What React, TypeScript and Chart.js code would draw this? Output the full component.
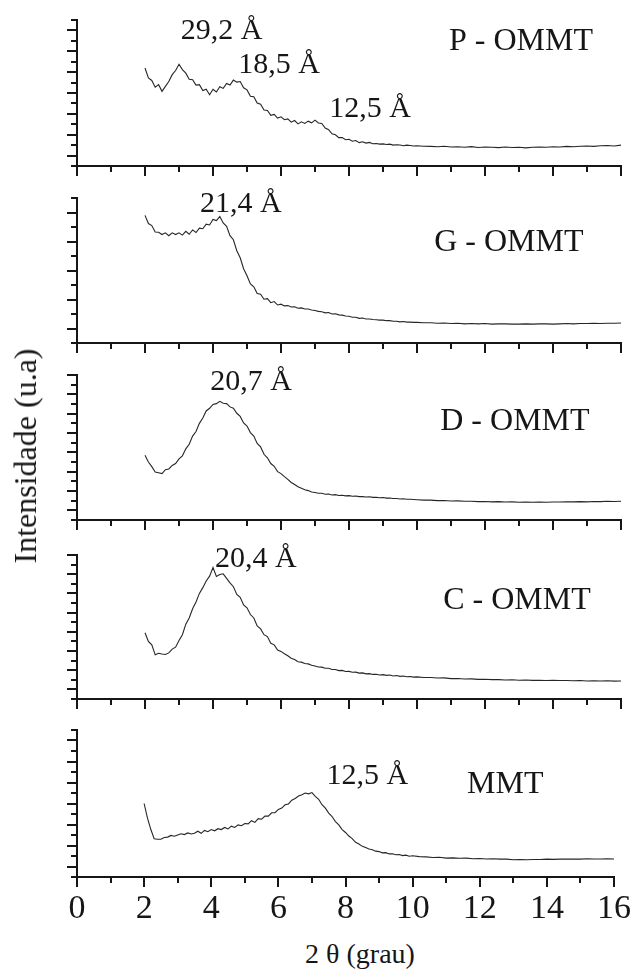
import React, { useEffect, useRef } from 'react';
import { Chart, registerables } from 'chart.js';

Chart.register(...registerables);

// 2θ positions (grau)
const TWO_THETA = [
  2.0, 2.1, 2.2, 2.3, 2.4, 2.5, 2.6, 2.7, 2.8, 2.9,
  3.0, 3.1, 3.2, 3.3, 3.4, 3.5, 3.6, 3.7, 3.8, 3.9,
  4.0, 4.1, 4.2, 4.3, 4.4, 4.5, 4.6, 4.7, 4.8, 4.9,
  5.0, 5.1, 5.2, 5.3, 5.4, 5.5, 5.6, 5.7, 5.8, 5.9,
  6.0, 6.1, 6.2, 6.3, 6.4, 6.5, 6.6, 6.7, 6.8, 6.9,
  7.0, 7.1, 7.2, 7.3, 7.4, 7.5, 7.6, 7.7, 7.8, 7.9,
  8.0, 8.1, 8.2, 8.3, 8.4, 8.5, 8.6, 8.7, 8.8, 8.9,
  9.0, 9.1, 9.2, 9.3, 9.4, 9.5, 9.6, 9.7, 9.8, 9.9,
  10.0,
  10.2, 10.4, 10.6, 10.8, 11.0, 11.2, 11.4, 11.6, 11.8, 12.0,
  12.2, 12.4, 12.6, 12.8, 13.0, 13.2, 13.4, 13.6, 13.8, 14.0,
  14.2, 14.4, 14.6, 14.8, 15.0, 15.2, 15.4, 15.6, 15.8, 16.0,
];

const P_OMMT = [
  4.20, 3.72, 3.60, 3.28, 3.40, 3.08, 3.32, 3.55, 3.88, 4.08,
  4.38, 4.12, 3.95, 3.66, 3.64, 3.38, 3.40, 3.12, 3.18, 2.92,
  3.18, 3.05, 3.30, 3.22, 3.46, 3.38, 3.62, 3.52, 3.55, 3.25,
  3.15, 2.84, 2.82, 2.52, 2.46, 2.18, 2.16, 1.93, 1.97, 1.80,
  1.86, 1.72, 1.76, 1.60, 1.68, 1.52, 1.62, 1.54, 1.65, 1.57,
  1.70, 1.56, 1.54, 1.32, 1.24, 1.04, 1.00, 0.86, 0.86, 0.76,
  0.78, 0.69, 0.72, 0.62, 0.66, 0.60, 0.63, 0.57, 0.58, 0.55,
  0.56, 0.53, 0.55, 0.50, 0.52, 0.51, 0.47, 0.50, 0.48, 0.46,
  0.47,
  0.45, 0.44, 0.42, 0.45, 0.41, 0.42, 0.40, 0.43, 0.39, 0.41,
  0.40, 0.38, 0.41, 0.39, 0.40, 0.37, 0.40, 0.41, 0.40, 0.42,
  0.41, 0.44, 0.42, 0.45, 0.46, 0.44, 0.47, 0.48, 0.46, 0.50,
];

const G_OMMT = [
  3.90, 3.62, 3.55, 3.33, 3.32, 3.24, 3.30, 3.20, 3.30, 3.24,
  3.30, 3.22, 3.35, 3.25, 3.40, 3.31, 3.46, 3.44, 3.60, 3.57,
  3.76, 3.72, 3.86, 3.64, 3.52, 3.20, 3.06, 2.68, 2.44, 2.06,
  1.82, 1.54, 1.44, 1.21, 1.18, 1.01, 1.03, 0.89, 0.93, 0.81,
  0.84, 0.78, 0.79, 0.74, 0.75, 0.70, 0.71, 0.67, 0.67, 0.64,
  0.62, 0.59, 0.58, 0.54, 0.55, 0.50, 0.51, 0.47, 0.46, 0.43,
  0.42, 0.39, 0.39, 0.35, 0.36, 0.33, 0.33, 0.31, 0.30, 0.29,
  0.29, 0.27, 0.27, 0.25, 0.25, 0.23, 0.24, 0.22, 0.22, 0.21,
  0.21,
  0.20, 0.20, 0.18, 0.19, 0.17, 0.18, 0.16, 0.17, 0.16, 0.17,
  0.15, 0.16, 0.16, 0.15, 0.15, 0.16, 0.15, 0.16, 0.16, 0.15,
  0.16, 0.17, 0.16, 0.17, 0.17, 0.18, 0.17, 0.18, 0.18, 0.19,
];

const D_OMMT = [
  2.85, 2.50, 2.26, 1.98, 1.94, 1.90, 2.10, 2.14, 2.32, 2.42,
  2.66, 2.82, 3.18, 3.42, 3.84, 4.08, 4.50, 4.78, 5.14, 5.28,
  5.48, 5.52, 5.64, 5.54, 5.52, 5.35, 5.28, 5.02, 4.86, 4.52,
  4.36, 4.02, 3.84, 3.46, 3.28, 2.90, 2.72, 2.42, 2.28, 2.00,
  1.90, 1.74, 1.60, 1.44, 1.34, 1.22, 1.14, 1.06, 1.02, 0.95,
  0.92, 0.88, 0.88, 0.83, 0.84, 0.79, 0.81, 0.77, 0.78, 0.75,
  0.76, 0.73, 0.74, 0.71, 0.71, 0.69, 0.70, 0.67, 0.67, 0.65,
  0.66, 0.63, 0.64, 0.61, 0.61, 0.59, 0.60, 0.57, 0.57, 0.56,
  0.55,
  0.53, 0.53, 0.50, 0.51, 0.48, 0.49, 0.47, 0.47, 0.45, 0.46,
  0.44, 0.45, 0.43, 0.44, 0.42, 0.43, 0.42, 0.43, 0.42, 0.43,
  0.43, 0.44, 0.44, 0.45, 0.44, 0.46, 0.45, 0.47, 0.46, 0.47,
];

const C_OMMT = [
  2.95, 2.50, 2.32, 1.80, 1.88, 1.84, 1.82, 1.90, 2.10, 2.20,
  2.55, 2.85, 3.40, 3.72, 4.20, 4.55, 5.00, 5.30, 5.65, 5.90,
  6.35, 5.88, 5.98, 6.02, 5.78, 5.55, 5.35, 4.95, 4.80, 4.40,
  4.25, 3.90, 3.72, 3.30, 3.15, 2.85, 2.75, 2.40, 2.32, 2.05,
  1.98, 1.86, 1.75, 1.62, 1.56, 1.44, 1.42, 1.35, 1.33, 1.26,
  1.22, 1.17, 1.16, 1.10, 1.10, 1.04, 1.04, 0.98, 0.99, 0.93,
  0.94, 0.89, 0.90, 0.85, 0.86, 0.81, 0.82, 0.78, 0.79, 0.75,
  0.77, 0.73, 0.75, 0.70, 0.72, 0.68, 0.70, 0.66, 0.67, 0.64,
  0.65,
  0.62, 0.62, 0.59, 0.60, 0.56, 0.57, 0.54, 0.55, 0.52, 0.53,
  0.51, 0.51, 0.49, 0.50, 0.48, 0.49, 0.47, 0.48, 0.46, 0.47,
  0.46, 0.46, 0.45, 0.46, 0.44, 0.45, 0.44, 0.45, 0.43, 0.44,
];

const MMT = [
  3.00, 2.30, 1.76, 1.32, 1.30, 1.30, 1.38, 1.40, 1.48, 1.44,
  1.50, 1.56, 1.52, 1.60, 1.55, 1.58, 1.68, 1.58, 1.72, 1.66,
  1.76, 1.70, 1.80, 1.76, 1.86, 1.79, 1.92, 1.86, 1.98, 1.94,
  2.05, 2.03, 2.18, 2.10, 2.28, 2.25, 2.40, 2.40, 2.56, 2.56,
  2.72, 2.78, 2.94, 2.98, 3.16, 3.24, 3.36, 3.42, 3.50, 3.46,
  3.52, 3.34, 3.20, 2.94, 2.78, 2.54, 2.38, 2.14, 1.98, 1.76,
  1.62, 1.45, 1.33, 1.15, 1.07, 0.96, 0.90, 0.83, 0.80, 0.73,
  0.71, 0.65, 0.66, 0.60, 0.61, 0.56, 0.57, 0.52, 0.54, 0.49,
  0.51,
  0.47, 0.46, 0.43, 0.44, 0.40, 0.41, 0.39, 0.40, 0.37, 0.38,
  0.36, 0.37, 0.35, 0.35, 0.32, 0.33, 0.32, 0.33, 0.33, 0.35,
  0.34, 0.35, 0.35, 0.36, 0.35, 0.37, 0.36, 0.36, 0.37, 0.36,
];

const X_TICK_LABELS = ['0', '2', '4', '6', '8', '10', '12', '14', '16'];

const SAMPLE_NAMES = ['P - OMMT', 'G - OMMT', 'D - OMMT', 'C - OMMT', 'MMT'];

// peak labels: [text, 2θ anchor, intensity anchor (baseline)]
const PEAKS_P: [string, number, number][] = [
  ['29,2 Å', 4.25, 5.59],
  ['18,5 Å', 5.94, 3.96],
  ['12,5 Å', 8.62, 1.85],
];
const PEAKS_G: [string, number, number][] = [['21,4 Å', 4.82, 4.02]];
const PEAKS_D: [string, number, number][] = [['20,7 Å', 5.12, 6.23]];
const PEAKS_C: [string, number, number][] = [['20,4 Å', 5.26, 6.38]];
const PEAKS_M: [string, number, number][] = [['12,5 Å', 8.65, 3.93]];

// sample name anchors (2θ, intensity baseline)
const NAME_ANCHORS: [number, number][] = [
  [13.06, 5.06],
  [12.7, 2.67],
  [12.88, 4.16],
  [12.94, 4.19],
  [12.76, 3.5],
];

const Y_RANGES: [number, number][] = [
  [-0.5, 6.5],
  [-0.5, 4.5],
  [-0.5, 7],
  [-0.5, 7],
  [-0.5, 6.5],
];

const SERIES = [P_OMMT, G_OMMT, D_OMMT, C_OMMT, MMT];
const PEAKS = [PEAKS_P, PEAKS_G, PEAKS_D, PEAKS_C, PEAKS_M];

// layout (pixels): plot area top / bottom for each panel
const PANEL_TOP = [20, 198, 375, 555, 730];
const PANEL_BOTTOM = [166, 343, 520, 699, 877];

const FONT = '"Liberation Serif", Tinos, "Times New Roman", serif';
const INK = '#161616';

function Panel({ idx }: { idx: number }) {
  const ref = useRef<HTMLCanvasElement | null>(null);
  const isLast = idx === SERIES.length - 1;
  const padTop = Math.min(40, PANEL_TOP[idx]);
  const plotH = PANEL_BOTTOM[idx] - PANEL_TOP[idx];
  const padBottom = isLast ? 10 : 15;
  const xAxisH = isLast ? 50 : 0;
  const height = padTop + plotH + xAxisH + padBottom;

  useEffect(() => {
    const canvas = ref.current;
    if (!canvas) return;
    const values = SERIES[idx];
    const data = TWO_THETA.map((x, i) => ({ x, y: values[i] }));
    const peaks = PEAKS[idx];
    const nameAnchor = NAME_ANCHORS[idx];

    const decor = {
      id: 'decor' + idx,
      afterDraw(chart: any) {
        const { ctx, chartArea, scales } = chart;
        const xs = scales.x;
        const ys = scales.y;
        ctx.save();
        ctx.strokeStyle = INK;
        ctx.lineWidth = 2;
        xs.ticks.forEach((t: any) => {
          const px = Math.round(xs.getPixelForValue(t.value));
          const major = Math.round(t.value) % 2 === 0;
          const len = major ? 10 : 6;
          ctx.beginPath();
          ctx.moveTo(px, chartArea.bottom);
          ctx.lineTo(px, chartArea.bottom + len);
          ctx.stroke();
        });
        ys.ticks.forEach((t: any) => {
          const py = Math.round(ys.getPixelForValue(t.value));
          const major = Math.abs(t.value - Math.round(t.value)) < 1e-6;
          const len = major ? 10 : 6;
          ctx.beginPath();
          ctx.moveTo(chartArea.left, py);
          ctx.lineTo(chartArea.left - len, py);
          ctx.stroke();
        });
        ctx.fillStyle = INK;
        ctx.textAlign = 'center';
        ctx.textBaseline = 'alphabetic';
        ctx.font = `30px ${FONT}`;
        peaks.forEach(([text, x, y]) => {
          ctx.fillText(text, xs.getPixelForValue(x), ys.getPixelForValue(y));
        });
        ctx.font = `32px ${FONT}`;
        ctx.fillText(
          SAMPLE_NAMES[idx],
          xs.getPixelForValue(nameAnchor[0]),
          ys.getPixelForValue(nameAnchor[1])
        );
        ctx.restore();
      },
    };

    const chart = new Chart(canvas, {
      type: 'line',
      data: {
        datasets: [
          {
            data,
            borderColor: '#262626',
            borderWidth: 1.1,
            pointRadius: 0,
            fill: false,
            tension: 0,
          },
        ],
      },
      options: {
        animation: false,
        responsive: false,
        maintainAspectRatio: false,
        events: [],
        layout: { padding: { left: 77, right: 22, top: padTop, bottom: padBottom } },
        plugins: {
          legend: { display: false },
          tooltip: { enabled: false },
          title: { display: false },
        },
        scales: {
          x: {
            type: 'linear',
            position: 'bottom',
            min: 0,
            max: 16,
            grid: { display: false, drawTicks: false, tickLength: 0 },
            border: { display: true, width: 2, color: INK },
            ticks: {
              display: isLast,
              stepSize: 1,
              autoSkip: false,
              maxRotation: 0,
              padding: 12,
              color: INK,
              font: { family: FONT, size: 34 },
              callback: (v: any) => {
                const s = String(v);
                return X_TICK_LABELS.includes(s) ? s : '';
              },
            },
            afterFit: (s: any) => {
              s.height = xAxisH;
            },
          },
          y: {
            type: 'linear',
            min: Y_RANGES[idx][0],
            max: Y_RANGES[idx][1],
            grid: { display: false, drawTicks: false, tickLength: 0 },
            border: { display: true, width: 2, color: INK },
            ticks: { display: false, stepSize: 0.5 },
            afterFit: (s: any) => {
              s.width = 0;
            },
          },
        },
      },
      plugins: [decor],
    } as any);
    return () => chart.destroy();
  }, [idx]);

  return (
    <canvas
      ref={ref}
      width={643}
      height={height}
      style={{
        position: 'absolute',
        left: 0,
        top: PANEL_TOP[idx] - padTop,
        width: 643,
        height,
        display: 'block',
      }}
    />
  );
}

export default function App() {
  return (
    <div
      style={{
        position: 'absolute',
        left: 0,
        top: 0,
        width: 643,
        height: 973,
        background: '#ffffff',
        overflow: 'hidden',
      }}
    >
      {SERIES.map((_, i) => (
        <Panel key={i} idx={i} />
      ))}
      <div
        style={{
          position: 'absolute',
          left: 25,
          top: 456,
          transform: 'translate(-50%, -50%) rotate(-90deg)',
          fontFamily: FONT,
          fontSize: 32,
          lineHeight: '32px',
          whiteSpace: 'nowrap',
          color: INK,
        }}
      >
        Intensidade (u.a)
      </div>
      <div
        style={{
          position: 'absolute',
          left: 360,
          top: 940,
          transform: 'translateX(-50%)',
          fontFamily: FONT,
          fontSize: 28,
          lineHeight: '28px',
          whiteSpace: 'nowrap',
          color: INK,
        }}
      >
        2 θ (grau)
      </div>
    </div>
  );
}
